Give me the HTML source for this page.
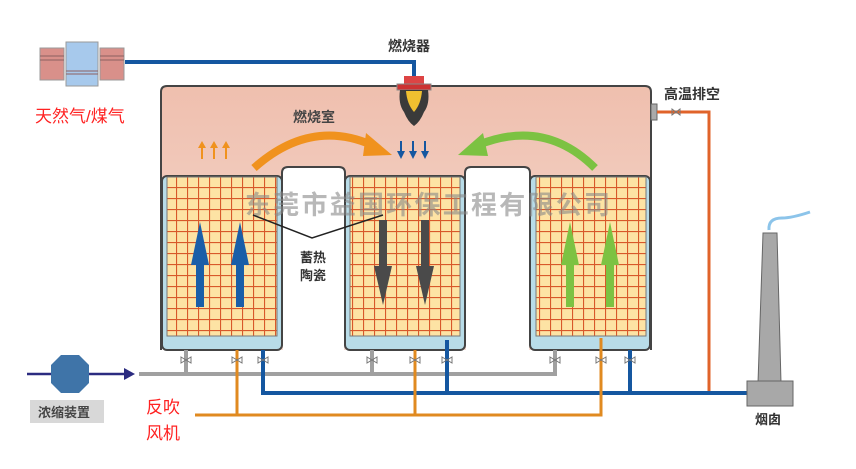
<!DOCTYPE html>
<html><head><meta charset="utf-8"><style>
html,body{margin:0;padding:0;background:#fff;}
svg{display:block;font-family:"Liberation Sans","Noto Sans CJK SC",sans-serif;}
</style></head><body>
<svg width="856" height="469" viewBox="0 0 856 469" xmlns="http://www.w3.org/2000/svg">
<defs>
<linearGradient id="ch" x1="0" y1="0" x2="0" y2="1">
<stop offset="0" stop-color="#efbfae"/><stop offset="1" stop-color="#f6dcd2"/>
</linearGradient>
<pattern id="grid" width="11" height="11" patternUnits="userSpaceOnUse">
<rect width="11" height="11" fill="#fde3a4"/>
<path d="M0 0.5H11M0.5 0V11" stroke="#d8582a" stroke-width="1.2"/>
</pattern>
</defs>

<!-- gas tanks -->
<rect x="40" y="48" width="24" height="32" fill="#d9908a" stroke="#999"/>
<rect x="66" y="42" width="32" height="44" fill="#a7c9ec" stroke="#999"/>
<rect x="100" y="48" width="24" height="32" fill="#d9908a" stroke="#999"/>
<path d="M40 56H64M40 60H64M100 56H124M100 60H124M66 71H98M66 74H98" stroke="#8c6060" stroke-width="1"/>
<path d="M125 62H414V82" fill="none" stroke="#1557a0" stroke-width="4"/>
<text x="388" y="51" font-size="14" font-weight="bold" fill="#333">燃烧器</text>
<text x="35" y="122" font-size="17" fill="#f22">天然气/煤气</text>

<!-- chamber -->
<rect x="161" y="86" width="490" height="264" rx="6" fill="url(#ch)"/>
<path d="M161 350V92Q161 86 167 86H645Q651 86 651 92V350" fill="none" stroke="#444" stroke-width="2"/>
<rect x="651" y="104" width="6" height="16" fill="#aaa" stroke="#666"/>
<path d="M657 112H709V393" fill="none" stroke="#e0632a" stroke-width="3"/>
<text x="664" y="99" font-size="14" font-weight="bold" fill="#333">高温排空</text>

<!-- beds -->
<g stroke="#444" stroke-width="2">
<rect x="162" y="176" width="120" height="174" rx="5" fill="#b8dce8"/>
<rect x="345" y="176" width="120" height="174" rx="5" fill="#b8dce8"/>
<rect x="530" y="176" width="120" height="174" rx="5" fill="#b8dce8"/>
</g>
<g stroke="#777" stroke-width="1">
<rect x="167" y="177" width="110" height="159" fill="url(#grid)"/>
<rect x="350" y="177" width="110" height="159" fill="url(#grid)"/>
<rect x="536" y="177" width="110" height="159" fill="url(#grid)"/>
</g>

<!-- gaps (open at bottom) -->
<rect x="283" y="168" width="61" height="200" fill="#fff"/>
<rect x="466" y="168" width="63" height="200" fill="#fff"/>
<path d="M282 345V173Q282 167 288 167H339Q345 167 345 173V345" fill="none" stroke="#444" stroke-width="2"/>
<path d="M465 345V173Q465 167 471 167H524Q530 167 530 173V345" fill="none" stroke="#444" stroke-width="2"/>

<!-- burner -->
<rect x="404" y="76" width="20" height="8" fill="#d44"/>
<rect x="397" y="84" width="34" height="6" fill="#c33" stroke="#888"/>
<path d="M400 90Q398 104 404 112Q408 122 414 126Q420 122 424 112Q430 104 428 90Z" fill="#3a3a3a"/>
<path d="M406 91Q407 104 414 112Q421 104 422 91Z" fill="#f0c030"/>
<text x="293" y="122" font-size="14" font-weight="bold" fill="#444">燃烧室</text>

<!-- small arrows -->
<g fill="#f0921e" stroke="#f0921e" stroke-width="2">
<path d="M202 159V147M214 159V147M226 159V147"/>
<path d="M198 148L202 141L206 148ZM210 148L214 141L218 148ZM222 148L226 141L230 148Z" stroke="none"/>
</g>
<g fill="#1557a0" stroke="#1557a0" stroke-width="2">
<path d="M401 141V152M413 141V152M425 141V152"/>
<path d="M397 151L401 159L405 151ZM409 151L413 159L417 151ZM421 151L425 159L429 151Z" stroke="none"/>
</g>

<!-- curved arrows -->
<path d="M254 168Q310 118 372 145" fill="none" stroke="#f0921e" stroke-width="8"/>
<path d="M366 133L392 155L363 156Z" fill="#f0921e"/>
<path d="M595 168Q545 118 478 145" fill="none" stroke="#7cc242" stroke-width="8"/>
<path d="M483 133L458 155L488 156Z" fill="#7cc242"/>

<!-- watermark -->
<text x="245" y="214" font-size="26" font-weight="bold" fill="#888" fill-opacity="0.6" textLength="365">东莞市益国环保工程有限公司</text>

<!-- big arrows -->
<g fill="#1a5ea8">
<path d="M196 307V265H191L200 222L209 265H204V307Z"/>
<path d="M236 307V265H231L240 222L249 265H244V307Z"/>
</g>
<g fill="#4a4a4a">
<path d="M379 220V266H374L383 305L392 266H387V220Z"/>
<path d="M421 220V266H416L425 305L434 266H429V220Z"/>
</g>
<g fill="#7cc242">
<path d="M566 307V265H561L570 222L579 265H574V307Z"/>
<path d="M606 307V265H601L610 222L619 265H614V307Z"/>
</g>
<path d="M253 215L312 238L383 215" fill="none" stroke="#222" stroke-width="1.5"/>
<text x="300" y="262" font-size="13" font-weight="bold" fill="#333">蓄热</text>
<text x="300" y="280" font-size="13" font-weight="bold" fill="#333">陶瓷</text>

<!-- pipes -->
<path d="M139 374H555V350M186 374V350M372 374V350" fill="none" stroke="#a0a0a0" stroke-width="4"/>
<path d="M263 350V393H750M447 340V393M630 350V393" fill="none" stroke="#1557a0" stroke-width="4"/>
<path d="M195 415H601V338M237 350V415M415 350V415" fill="none" stroke="#e08a20" stroke-width="3"/>
<!-- valves -->
<g fill="none" stroke="#777" stroke-width="1">
<path d="M181 357L191 363V357L181 363Z"/><path d="M232 357L242 363V357L232 363Z"/><path d="M258 357L268 363V357L258 363Z"/>
<path d="M367 357L377 363V357L367 363Z"/><path d="M410 357L420 363V357L410 363Z"/><path d="M442 357L452 363V357L442 363Z"/>
<path d="M550 357L560 363V357L550 363Z"/><path d="M596 357L606 363V357L596 363Z"/><path d="M625 357L635 363V357L625 363Z"/>
<path d="M672 109L680 115V109L672 115Z"/>
</g>

<!-- concentrator -->
<path d="M27 374H128" stroke="#2b2b80" stroke-width="2.5"/>
<path d="M124 368L135 374L124 380Z" fill="#2b2b80"/>
<polygon points="61,355 79,355 89,365 89,383 79,393 61,393 51,383 51,365" fill="#3f74a8"/>
<rect x="30" y="400" width="74" height="23" fill="#d8d8d8"/>
<text x="38" y="417" font-size="13" font-weight="bold" fill="#444">浓缩装置</text>
<text x="146" y="413" font-size="17" fill="#f22">反吹</text>
<text x="146" y="439" font-size="17" fill="#f22">风机</text>

<!-- stack -->
<path d="M763 233H777L781 383H758Z" fill="#a8a8a8" stroke="#666"/>
<rect x="747" y="381" width="46" height="25" fill="#a8a8a8" stroke="#666"/>
<path d="M769 230Q768 218 782 218Q792 218 810 212" fill="none" stroke="#8cc4ea" stroke-width="3"/>
<text x="755" y="424" font-size="13" font-weight="bold" fill="#333">烟囱</text>
</svg>
</body></html>
